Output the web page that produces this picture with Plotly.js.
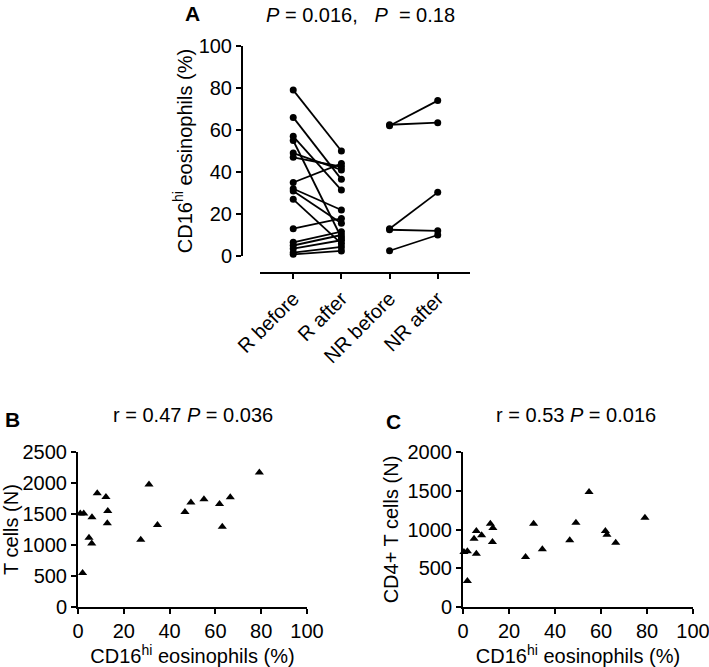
<!DOCTYPE html>
<html>
<head>
<meta charset="utf-8">
<script src="https://cdn.plot.ly/plotly-3.0.1.min.js"></script>
<style>
  html, body { margin: 0; padding: 0; background: #fff; }
  #chart { width: 709px; height: 667px; }
</style>
</head>
<body>
<div id="chart"></div>
<script>
// Panel A: paired CD16hi eosinophils (%) before / after
var groups = ['R before', 'R after', 'NR before', 'NR after'];
var rBefore = [79, 66, 57, 55, 49, 47, 35, 32, 31, 27, 13, 6.5, 5, 3.5, 1.6, 0.8];
var rAfter = [50, 36.5, 31.4, 8.7, 41, 42.5, 44, 21.9, 15.6, 5.9, 17.9, 11.6, 10, 7.5, 4.3, 2.4];
var nrBefore = [62, 62.5, 13, 12.5, 2.5];
var nrAfter = [74, 63.5, 30.3, 12, 10];

// Panel B: T cells vs CD16hi eosinophils
var bEos = [1, 2.5, 2, 4.8, 6, 6.1, 8.4, 12.2, 13, 12.8, 27.4, 31, 34.7, 46.7, 49.3, 55, 61.8, 63, 66.5, 79.2];
var bTcells = [1510, 1510, 550, 1118, 1026, 1447, 1836, 1776, 1550, 1350, 1085, 1976, 1323, 1533, 1685, 1739, 1663, 1296, 1771, 2171];

// Panel C: CD4+ T cells vs CD16hi eosinophils
var cEos = [0.4, 1.9, 1.9, 4.8, 5.8, 5.8, 8.1, 11.9, 13, 12.8, 27.2, 30.7, 34.5, 46.4, 49.1, 54.8, 61.9, 62.6, 66.4, 79.1];
var cCd4 = [710, 718, 335, 882, 981, 688, 925, 1075, 1019, 839, 645, 1075, 744, 860, 1088, 1484, 981, 933, 830, 1153];

var W = 709, H = 667;
function px(x) { return x / W; }
function py(y) { return 1 - y / H; }

var traces = [];

function pairTrace(x0, x1, y0, y1) {
  return {
    x: [x0, x1], y: [y0, y1],
    xaxis: 'x', yaxis: 'y',
    type: 'scatter', mode: 'lines+markers',
    line: { color: '#000', width: 1.8 },
    marker: { color: '#000', size: 7 },
    cliponaxis: false,
    hoverinfo: 'skip'
  };
}

for (var i = 0; i < rBefore.length; i++) {
  traces.push(pairTrace(groups[0], groups[1], rBefore[i], rAfter[i]));
}
for (var j = 0; j < nrBefore.length; j++) {
  traces.push(pairTrace(groups[2], groups[3], nrBefore[j], nrAfter[j]));
}

traces.push({
  x: bEos, y: bTcells, xaxis: 'x2', yaxis: 'y2',
  type: 'scatter', mode: 'markers',
  marker: { symbol: 'triangle-up', color: '#000', size: 8 },
  cliponaxis: false
});

traces.push({
  x: cEos, y: cCd4, xaxis: 'x3', yaxis: 'y3',
  type: 'scatter', mode: 'markers',
  marker: { symbol: 'triangle-up', color: '#000', size: 8 },
  cliponaxis: false
});

var FS = 20;

var axisStyle = {
  showline: true, linecolor: '#000', linewidth: 2,
  ticks: 'outside', ticklen: 5, tickwidth: 2, tickcolor: '#000',
  showgrid: false, zeroline: false,
  ticklabeloverflow: 'allow',
  tickfont: { size: FS, color: '#000' }
};

function ax(extra) {
  var o = {};
  for (var k in axisStyle) o[k] = axisStyle[k];
  for (var k2 in extra) o[k2] = extra[k2];
  return o;
}

var eosTitle = 'CD16<sup>hi</sup> eosinophils (%)';

function note(text, x, y, size) {
  return {
    text: text, x: px(x), y: py(y), xref: 'paper', yref: 'paper',
    xanchor: 'center', yanchor: 'middle', showarrow: false,
    font: { size: size }
  };
}

var layout = {
  width: W, height: H,
  margin: { l: 0, r: 0, t: 0, b: 0 },
  paper_bgcolor: '#fff', plot_bgcolor: 'rgba(0,0,0,0)',
  showlegend: false,
  font: { family: 'Liberation Sans, Arial, sans-serif', size: FS, color: '#000' },

  xaxis: ax({
    domain: [px(260), px(470)], anchor: 'free', position: py(273),
    type: 'category', categoryorder: 'array', categoryarray: groups,
    range: [-0.69, 3.67], tickangle: -45
  }),
  yaxis: ax({
    domain: [py(256), py(46)], anchor: 'free', position: px(242),
    range: [0, 100], dtick: 20,
    title: { text: eosTitle, font: { size: FS }, standoff: 0 }
  }),

  xaxis2: ax({
    domain: [px(78), px(307)], anchor: 'y2',
    range: [0, 100], dtick: 20,
    title: { text: eosTitle, font: { size: FS }, standoff: 6 }
  }),
  yaxis2: ax({
    domain: [py(607), py(452)], anchor: 'x2',
    range: [0, 2500], dtick: 500,
    title: { text: 'T cells (N)', font: { size: FS }, standoff: 4 }
  }),

  xaxis3: ax({
    domain: [px(463), px(693)], anchor: 'y3',
    range: [0, 100], dtick: 20,
    title: { text: eosTitle, font: { size: FS }, standoff: 6 }
  }),
  yaxis3: ax({
    domain: [py(607), py(452)], anchor: 'x3',
    range: [0, 2000], dtick: 500,
    title: { text: 'CD4+ T cells (N)', font: { size: FS }, standoff: 4 }
  }),

  annotations: [
    note('<b>A</b>', 192, 13, 21),
    note('<i>P</i> = 0.016,\u00A0\u00A0\u00A0<i>P</i>\u00A0 = 0.18', 360, 15, FS),
    note('<b>B</b>', 12, 419, 21),
    note('r = 0.47 <i>P</i> = 0.036', 193, 415, FS),
    note('<b>C</b>', 393, 421, 21),
    note('r = 0.53 <i>P</i> = 0.016', 576, 415, FS)
  ]
};

Plotly.newPlot('chart', traces, layout, { displayModeBar: false, staticPlot: true });
</script>
</body>
</html>
